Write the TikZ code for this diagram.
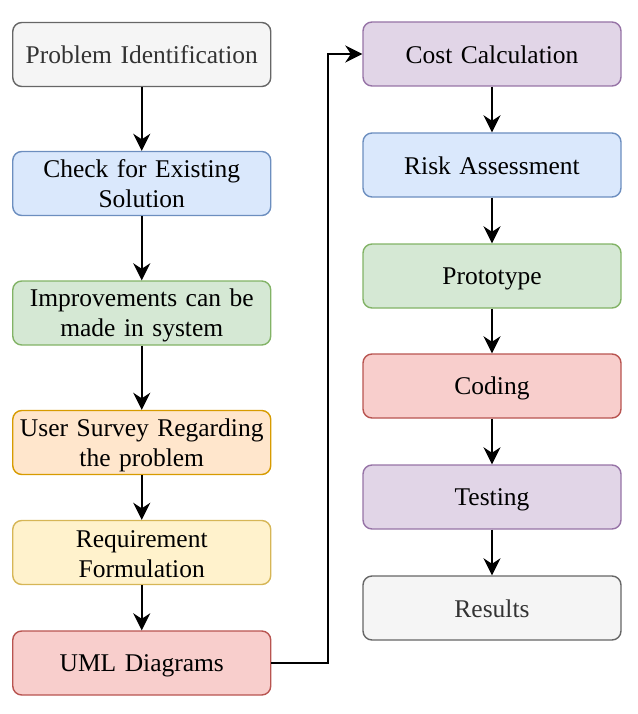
\documentclass[tikz,border=0pt]{standalone}
\usepackage{fontspec}
\setmainfont{Liberation Serif}
\usetikzlibrary{arrows.meta}
\definecolor{gF}{HTML}{F5F5F5}\definecolor{gS}{HTML}{666666}\definecolor{gT}{HTML}{333333}
\definecolor{bF}{HTML}{DAE8FC}\definecolor{bS}{HTML}{6C8EBF}
\definecolor{grF}{HTML}{D5E8D4}\definecolor{grS}{HTML}{82B366}
\definecolor{oF}{HTML}{FFE6CC}\definecolor{oS}{HTML}{D79B00}
\definecolor{yF}{HTML}{FFF2CC}\definecolor{yS}{HTML}{D6B656}
\definecolor{rF}{HTML}{F8CECC}\definecolor{rS}{HTML}{B85450}
\definecolor{pF}{HTML}{E1D5E7}\definecolor{pS}{HTML}{9673A6}
\tikzset{
  box/.style={draw, rectangle, rounded corners=9pt, line width=1.4pt,
    minimum width=258pt, minimum height=64pt, inner sep=2pt,
    align=center, text width=250pt,
    font=\fontsize{25.5pt}{30pt}\selectfont,
    execute at begin node={\rule{0pt}{23pt}},
    execute at end node={\rule[-4pt]{0pt}{4pt}}},
  gray/.style={box, fill=gF, draw=gS, text=gT},
  blue/.style={box, fill=bF, draw=bS},
  green/.style={box, fill=grF, draw=grS},
  orange/.style={box, fill=oF, draw=oS},
  yellow/.style={box, fill=yF, draw=yS},
  red/.style={box, fill=rF, draw=rS},
  purple/.style={box, fill=pF, draw=pS},
  arr/.style={line width=1.9pt, -{Stealth[length=17pt,width=17pt,inset=5.5pt]}}
}
\begin{document}
\begin{tikzpicture}[x=1pt,y=-1pt]
\useasboundingbox (0,0) rectangle (637,714);
\node[gray]   (a1) at (141.75,54.5) {Problem Identification};
\node[blue]   (a2) at (141.75,183.5) {Check for Existing\\Solution};
\node[green]  (a3) at (141.75,313) {Improvements can be\\made in system};
\node[orange] (a4) at (141.75,442.5) {User Survey Regarding\\the problem};
\node[yellow] (a5) at (141.75,552.5) {Requirement\\Formulation};
\node[red]    (a6) at (141.75,663) {UML Diagrams};
\node[purple] (b1) at (492,54) {Cost Calculation};
\node[blue]   (b2) at (492,165) {Risk Assessment};
\node[green]  (b3) at (492,276) {Prototype};
\node[red]    (b4) at (492,386) {Coding};
\node[purple] (b5) at (492,497) {Testing};
\node[gray]   (b6) at (492,608) {Results};
\draw[arr] (a1) -- (a2);
\draw[arr] (a2) -- (a3);
\draw[arr] (a3) -- (a4);
\draw[arr] (a4) -- (a5);
\draw[arr] (a5) -- (a6);
\draw[arr] (b1) -- (b2);
\draw[arr] (b2) -- (b3);
\draw[arr] (b3) -- (b4);
\draw[arr] (b4) -- (b5);
\draw[arr] (b5) -- (b6);
\draw[arr] (a6.east) -- (328,663) -- (328,54) -- (b1.west);
\end{tikzpicture}
\end{document}
